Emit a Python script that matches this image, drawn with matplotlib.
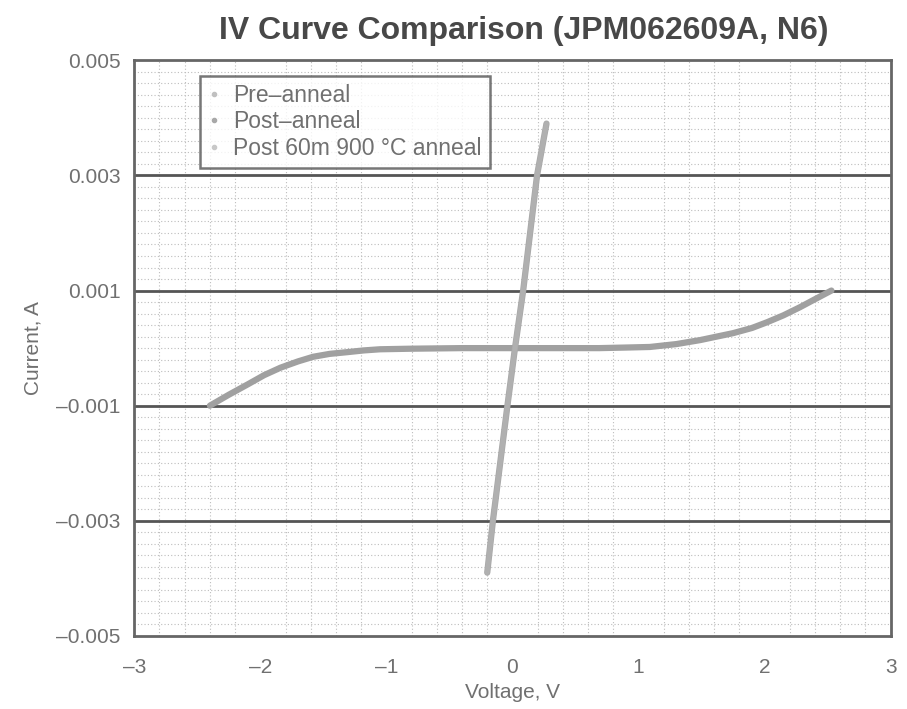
import numpy as np
import matplotlib.pyplot as plt
from matplotlib.ticker import MultipleLocator
from matplotlib.lines import Line2D

# --- data ---
pre_v = [-2.40, -2.25, -2.10, -1.97, -1.84, -1.70, -1.58, -1.45, -1.31, -1.18, -1.05, -0.80, -0.40, 0.0,
         0.40, 0.69, 0.90, 1.09, 1.30, 1.49, 1.62, 1.75, 1.90, 2.02, 2.15, 2.28, 2.40, 2.53]
pre_i = [-0.00100, -0.00081, -0.00063, -0.00047, -0.00034, -0.00023, -0.00015, -0.00010, -0.00007,
         -0.00004, -0.00002, -0.00001, 0.0, 0.0, 0.0, 0.0, 0.00001, 0.00002, 0.00007, 0.00014,
         0.00020, 0.00026, 0.00035, 0.00045, 0.00057, 0.00071, 0.00085, 0.00100]

post_v = [-0.20, -0.155, -0.04, 0.02, 0.085, 0.195, 0.27]
post_i = [-0.0039, -0.0030, -0.0010, 0.0, 0.0010, 0.0030, 0.0039]

# third series sits on top of the post-anneal line
post900_v = [-0.20, -0.155, -0.04, 0.02, 0.085, 0.195, 0.27]
post900_i = [-0.0039, -0.0030, -0.0010, 0.0, 0.0010, 0.0030, 0.0039]

labels = ['Pre\u2013anneal', 'Post\u2013anneal', 'Post 60m 900 \u00b0C anneal']
y_ticks = [-0.005, -0.003, -0.001, 0.001, 0.003, 0.005]
x_ticks = [-3, -2, -1, 0, 1, 2, 3]

txt = '#707070'
plt.rcParams['font.family'] = ['Liberation Sans', 'DejaVu Sans']

fig = plt.figure(figsize=(9.07, 7.09), dpi=100)
ax = fig.add_axes([0.148, 0.103, 0.834, 0.812])

ax.plot(pre_v, pre_i, color='#a0a0a0', lw=4.5, solid_capstyle='round', solid_joinstyle='round')
ax.plot(post_v, post_i, color='#a8a8a8', lw=4.5, solid_capstyle='round', solid_joinstyle='round')
ax.plot(post900_v, post900_i, color='#b0b0b0', lw=3.5, solid_capstyle='round')

ax.set_xlim(-3, 3)
ax.set_ylim(-0.005, 0.005)
ax.set_xticks(x_ticks)
ax.set_yticks(y_ticks)
ax.set_yticklabels([f'{t:.3f}'.replace('-', '\u2013') for t in y_ticks])
ax.set_xticklabels([str(t).replace('-', '\u2013') for t in x_ticks])
ax.xaxis.set_minor_locator(MultipleLocator(0.2))
ax.yaxis.set_minor_locator(MultipleLocator(0.0002))
ax.tick_params(which='both', length=0, labelsize=15, labelcolor=txt)
ax.tick_params(axis='x', pad=16)
ax.tick_params(axis='y', pad=10)

ax.grid(which='minor', color='#bdbdbd', lw=0.8, ls=(0, (1, 2)))
for t in y_ticks[1:-1]:
    ax.axhline(t, color='#555555', lw=2, zorder=1)
ax.set_axisbelow(True)

for s in ax.spines.values():
    s.set_color('#666666')
    s.set_linewidth(2)

ax.set_xlabel('Voltage, V', fontsize=15, color=txt, labelpad=4)
ax.set_ylabel('Current, A', fontsize=15, color=txt, labelpad=10)
fig.suptitle('IV Curve Comparison (JPM062609A, N6)', fontsize=23, fontweight='bold',
             color='#484848', x=0.578, y=0.978)

handles = [Line2D([], [], ls='none', marker='o', ms=3, color=c) for c in ['#c0c0c0', '#a8a8a8', '#c8c8c8']]
leg = ax.legend(handles, labels, loc='upper left', bbox_to_anchor=(0.087, 0.973), fontsize=16.5,
                frameon=True, fancybox=False, edgecolor='#555555', handlelength=0.5,
                handletextpad=0.6, labelspacing=0.15, borderpad=0.35, borderaxespad=0,
                labelcolor=txt)
leg.get_frame().set_linewidth(1.8)

fig.savefig('out.png', dpi=100, facecolor='white')
